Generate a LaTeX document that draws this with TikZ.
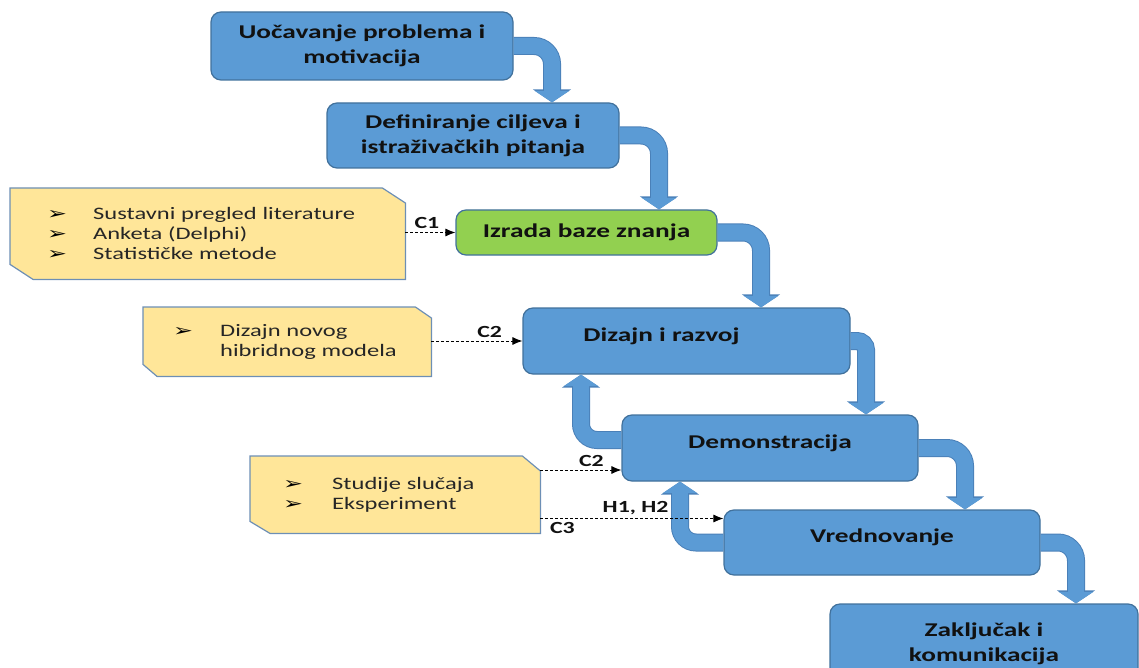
\documentclass[tikz,border=0pt]{standalone}
\usepackage{fontspec}
\setmainfont{Carlito}[FakeStretch=1.4]
\newfontfamily\dvs{DejaVu Sans}[FakeStretch=1.4]
\usetikzlibrary{arrows.meta,calc}
\pgfdeclarelayer{bg}
\pgfsetlayers{bg,main}
\definecolor{boxblue}{HTML}{5B9BD5}
\definecolor{boxedge}{HTML}{41719C}
\definecolor{flowedge}{HTML}{4A80B8}
\definecolor{leafgreen}{HTML}{92D050}
\definecolor{noteyellow}{HTML}{FFE699}
\definecolor{noteedge}{HTML}{6D8FB5}
\definecolor{txt}{HTML}{111111}
\definecolor{notetxt}{HTML}{262626}
\tikzset{
  stepbox/.style={draw=boxedge, fill=boxblue, line width=1.2pt, rounded corners=10pt,
    text=txt, font=\bfseries\fontsize{19.5}{25}\selectfont, align=center, inner sep=0pt},
  greenbox/.style={stepbox, fill=leafgreen},
  lowtext/.style={text height=14pt, text depth=14pt},
  notebox/.style={inner ysep=0pt, text=notetxt, font=\fontsize{17.5}{20}\selectfont, align=left, anchor=north west},
  notefill/.style={draw=noteedge, fill=noteyellow, line width=1.2pt},
  flow/.style={line width=16pt, draw=boxblue, rounded corners=#1,
    -{Triangle[width=34pt,length=11.5pt]},
    preaction={draw=flowedge, line width=18pt, -{Triangle[width=37.5pt,length=13pt]}}},
  flow/.default=18pt,
  feed/.style={densely dashed, line width=0.9pt, draw=black, -{Latex[length=10pt,width=8pt]}},
  tag/.style={font=\bfseries\fontsize{17}{20}\selectfont, text=txt, inner sep=3pt},
}
\newcommand{\bul}[1]{\makebox[#1][l]{\color{black}\dvs\fontsize{17}{20}\selectfont ➢}}
\begin{document}
\begin{tikzpicture}[x=1pt,y=-1pt]
\useasboundingbox (0,0) rectangle (1139,668);
\clip (0,0) rectangle (1139,668);

% process boxes
\node[stepbox, minimum width=302pt, minimum height=68pt] (b1) at (362,46) {Uočavanje problema i\\motivacija};
\node[stepbox, minimum width=292pt, minimum height=65pt] (b2) at (473,135.5) {Definiranje ciljeva i\\istraživačkih pitanja};
\node[greenbox, minimum width=261pt, minimum height=45pt] (b3) at (586.5,232.5) {Izrada baze znanja};
\node[stepbox, lowtext, minimum width=327pt, minimum height=66pt] (b4) at (686.5,341) {Dizajn i razvoj\hspace*{50pt}};
\node[stepbox, lowtext, minimum width=296pt, minimum height=66pt] (b5) at (770,448) {Demonstracija};
\node[stepbox, lowtext, minimum width=316pt, minimum height=65pt] (b6) at (882,542.5) {Vrednovanje};
\node[stepbox, minimum width=308pt, minimum height=79pt] (b7) at (984,643.5) {Zaključak i\\komunikacija};

% notes
\node[notebox, minimum height=91pt, inner xsep=37pt, text width=321pt] (y1) at (10,188)
  {\bul{46pt}Sustavni pregled literature\\\bul{46pt}Anketa (Delphi)\\\bul{46pt}Statističke metode};
\node[notebox, minimum height=69pt, inner xsep=30pt, text width=228pt] (y2) at (143,307)
  {\bul{47pt}Dizajn novog\\\hspace*{47pt}hibridnog modela};
\node[notebox, minimum height=77pt, inner xsep=33pt, text width=224pt] (y3) at (250,456)
  {\bul{49pt}Studije slučaja\\\bul{49pt}Eksperiment};

\begin{pgfonlayer}{bg}
\draw[notefill] (y1.north west) -- ($(y1.north east)+(-23,0)$) -- ($(y1.north east)+(0,15)$)
  -- (y1.south east) -- ($(y1.south west)+(23,0)$) -- ($(y1.south west)+(0,-15)$) -- cycle;
\draw[notefill] (y2.north west) -- ($(y2.north east)+(-16,0)$) -- ($(y2.north east)+(0,11)$)
  -- (y2.south east) -- ($(y2.south west)+(14,0)$) -- ($(y2.south west)+(0,-12)$) -- cycle;
\draw[notefill] (y3.north west) -- ($(y3.north east)+(-18,0)$) -- ($(y3.north east)+(0,15)$)
  -- (y3.south east) -- ($(y3.south west)+(20,0)$) -- ($(y3.south west)+(0,-12)$) -- cycle;
\end{pgfonlayer}

% main flow arrows
\draw[flow] (b1.east) -| ([xshift=79pt]b2.north);
\draw[flow] (b2.east) -| ([xshift=72.5pt]b3.north);
\draw[flow] (b3.east) -| ([xshift=74.5pt]b4.north);
\draw[flow=9pt] (b4.east) -| ([xshift=96pt]b5.north);
\draw[flow] (b5.east) -| ([xshift=83pt]b6.north);
\draw[flow] (b6.east) -| ([xshift=92pt]b7.north);
% feedback arrows
\draw[flow=16pt] ([yshift=8pt]b5.west) -| ([xshift=-105.5pt]b4.south);
\draw[flow=16pt] (b6.west) -| ([xshift=-90pt]b5.south);

% dashed links
\coordinate (t5) at ([yshift=-22pt]b5.west);
\coordinate (t6) at ([yshift=24pt]b6.west);
\draw[feed] (y1.east |- b3.west) -- node[tag, pos=0.43, above] {C1} (b3.west);
\draw[feed] (y2.east |- b4.west) -- node[tag, pos=0.64, above] {C2} (b4.west);
\draw[feed] (y3.east |- t5) -- node[tag, pos=0.63, above] {C2} (t5);
\draw[feed] (y3.east |- t6) -- node[tag, pos=0.52, above] {H1, H2}
  node[tag, pos=0.12, below] {C3} (t6);
\end{tikzpicture}
\end{document}
